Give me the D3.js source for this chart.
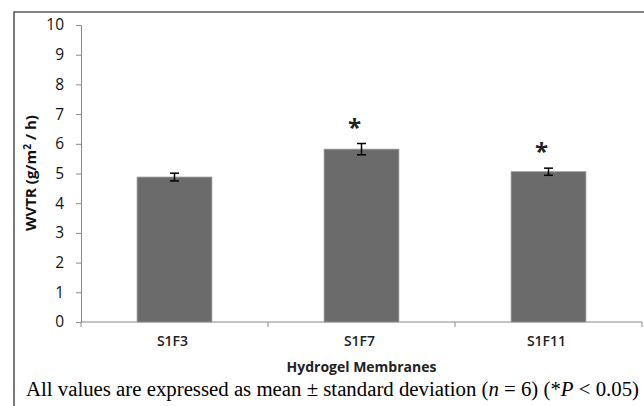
<!DOCTYPE html>
<html><head><meta charset="utf-8">
<script src="https://cdn.jsdelivr.net/npm/d3@7"></script>
<style>body{margin:0;background:#fff}svg{display:block}</style>
</head><body>
<svg id="c" width="644" height="406"></svg>
<script>
const categories = ["S1F3", "S1F7", "S1F11"];
const means = [4.88, 5.82, 5.06];
const sds = [0.13, 0.19, 0.12];
const significant = [false, true, true];
const yTicks = [0,1,2,3,4,5,6,7,8,9,10];
const yLabel = "WVTR (g/m";
const xLabel = "Hydrogel Membranes";

const W = 644, H = 406;
const m = {left: 81, right: 2, top: 25, bottom: 84};
const svg = d3.select("#c");

// frame
svg.append("path").attr("d", `M14,${H} L14,12 L${W},12`).attr("fill","none")
  .attr("stroke","#5a5a5a").attr("stroke-width",1.6);

const x = d3.scaleBand().domain(categories).range([m.left, W - m.right]).paddingInner(0.6).paddingOuter(0.3);
const y = d3.scaleLinear().domain([0,10]).range([H - m.bottom, m.top]);

const sansFont = "'Open Sans', Lato, sans-serif";

// y axis
const ya = svg.append("g").attr("transform",`translate(${m.left},0)`)
  .call(d3.axisLeft(y).tickValues(yTicks).tickSize(5).tickPadding(12).tickFormat(d3.format("d")));
ya.selectAll("path,line").attr("stroke","#8a8a8a");
ya.selectAll("text").attr("font-family",sansFont).attr("font-size",15.5).attr("fill","#111");

// x axis with boundary ticks
const xa = svg.append("g").attr("transform",`translate(0,${y(0)})`);
xa.append("line").attr("x1",m.left).attr("x2",W - m.right).attr("stroke","#8a8a8a");
const step = x.step();
const bounds = d3.range(categories.length + 1).map(i => x.range()[0] + i * step);
xa.selectAll("line.b").data(bounds).join("line").attr("class","b")
  .attr("x1",d=>d).attr("x2",d=>d).attr("y1",0).attr("y2",5).attr("stroke","#8a8a8a");
xa.selectAll("text").data(categories).join("text")
  .attr("x",d=>x(d)+x.bandwidth()/2 - 2).attr("y",24)
  .attr("text-anchor","middle").attr("font-family",sansFont).attr("font-size",14)
  .attr("font-weight",600).attr("fill","#222").text(d=>d);

// bars
svg.selectAll("rect.bar").data(categories).join("rect").attr("class","bar")
  .attr("x",d=>x(d)).attr("width",x.bandwidth())
  .attr("y",(d,i)=>y(means[i])).attr("height",(d,i)=>y(0)-y(means[i]))
  .attr("fill","#6b6b6b").attr("stroke","#9a9a9a").attr("stroke-width",0.8);

// error bars
const eb = svg.selectAll("g.err").data(categories).join("g").attr("class","err")
  .attr("stroke","#000").attr("stroke-width",1.5);
eb.append("line").attr("x1",d=>x(d)+x.bandwidth()/2).attr("x2",d=>x(d)+x.bandwidth()/2)
  .attr("y1",(d,i)=>y(means[i]+sds[i])).attr("y2",(d,i)=>y(means[i]-sds[i]));
eb.append("line").attr("x1",d=>x(d)+x.bandwidth()/2-4.5).attr("x2",d=>x(d)+x.bandwidth()/2+4.5)
  .attr("y1",(d,i)=>y(means[i]+sds[i])).attr("y2",(d,i)=>y(means[i]+sds[i]));
eb.append("line").attr("x1",d=>x(d)+x.bandwidth()/2-4.5).attr("x2",d=>x(d)+x.bandwidth()/2+4.5)
  .attr("y1",(d,i)=>y(means[i]-sds[i])).attr("y2",(d,i)=>y(means[i]-sds[i]));

// asterisks
svg.selectAll("text.sig").data(categories.filter((d,i)=>significant[i])).join("text").attr("class","sig")
  .attr("x",d=>x(d)+x.bandwidth()/2-7)
  .attr("y",d=>{const i=categories.indexOf(d); return y(means[i]+sds[i]) - 8;})
  .attr("text-anchor","middle").attr("font-family",sansFont).attr("font-weight",700)
  .attr("font-size",24).attr("fill","#222").text("*");

// y label
const yl = svg.append("text").attr("transform","translate(36,173) rotate(-90)")
  .attr("text-anchor","middle").attr("font-family",sansFont).attr("font-weight",700)
  .attr("font-size",15).attr("fill","#111");
yl.append("tspan").text(yLabel);
yl.append("tspan").attr("dy",-5).attr("font-size",10).text("2");
yl.append("tspan").attr("dy",5).text(" / h)");

// x label
svg.append("text").attr("x",(m.left + W - m.right)/2).attr("y",372)
  .attr("text-anchor","middle").attr("font-family",sansFont).attr("font-weight",700)
  .attr("font-size",14).attr("fill","#222").text(xLabel);

// caption
const cap = svg.append("text").attr("x",26).attr("y",396)
  .attr("font-family","'Liberation Serif', 'Times New Roman', serif").attr("font-size",20.8).attr("fill","#000");
cap.append("tspan").text("All values are expressed as mean ± standard deviation (");
cap.append("tspan").attr("font-style","italic").text("n");
cap.append("tspan").text(" = 6) (*");
cap.append("tspan").attr("font-style","italic").text("P");
cap.append("tspan").text(" < 0.05)");
</script>
</body></html>
